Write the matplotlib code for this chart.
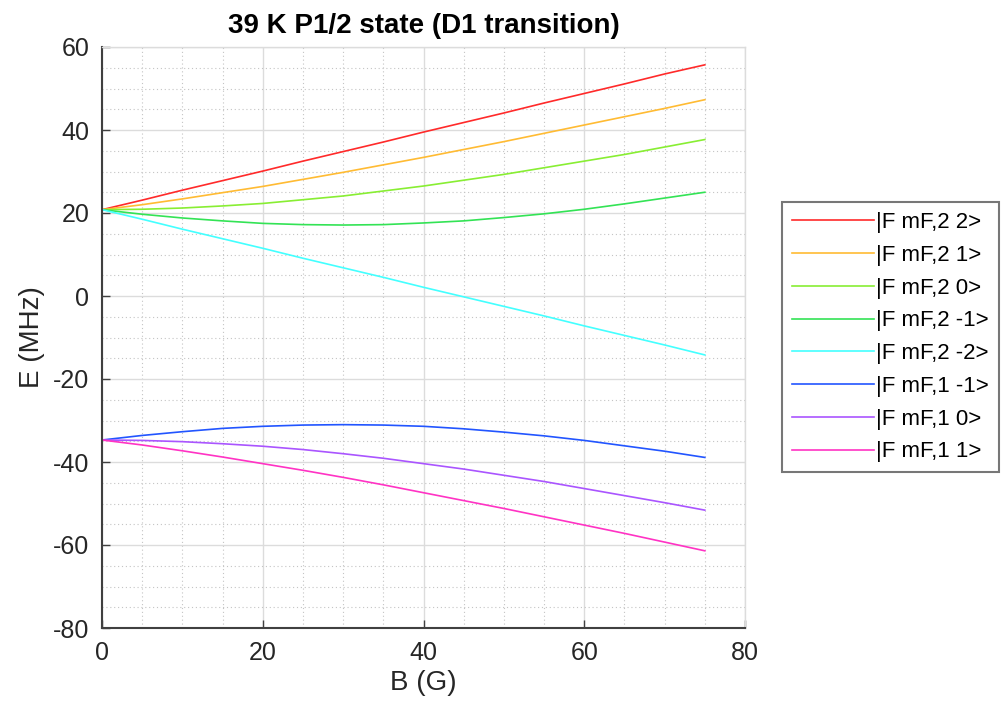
import matplotlib

matplotlib.use("Agg")
import matplotlib.pyplot as plt
from matplotlib.ticker import MultipleLocator

plt.rcParams["font.family"] = ["Liberation Sans", "DejaVu Sans"]
plt.rcParams["axes.unicode_minus"] = False

# field values (G) and Zeeman-shifted energies (MHz) of the 39K 4P1/2 sublevels
B = [0, 5, 10, 15, 20, 25, 30, 35, 40, 45, 50, 55, 60, 65, 70, 75]

E_2_2 = [20.8, 23.1, 25.5, 27.8, 30.1, 32.5, 34.8, 37.1, 39.5, 41.8, 44.1, 46.5,
         48.8, 51.1, 53.5, 55.7]
E_2_1 = [20.8, 22.0, 23.4, 24.9, 26.4, 28.1, 29.8, 31.6, 33.4, 35.3, 37.2, 39.2,
         41.2, 43.2, 45.2, 47.3]
E_2_0 = [20.8, 20.9, 21.2, 21.7, 22.3, 23.2, 24.1, 25.3, 26.5, 27.9, 29.3, 30.9,
         32.5, 34.1, 35.9, 37.7]
E_2_m1 = [20.8, 19.7, 18.8, 18.1, 17.5, 17.2, 17.1, 17.2, 17.6, 18.1, 18.9, 19.8,
          20.9, 22.2, 23.6, 25.0]
E_2_m2 = [20.8, 18.5, 16.1, 13.8, 11.5, 9.1, 6.8, 4.5, 2.1, -0.2, -2.5, -4.8,
          -7.2, -9.5, -11.8, -14.2]
E_1_m1 = [-34.7, -33.6, -32.7, -31.9, -31.4, -31.1, -31.0, -31.1, -31.4, -32.0,
          -32.8, -33.7, -34.8, -36.1, -37.4, -38.9]
E_1_0 = [-34.7, -34.8, -35.1, -35.6, -36.2, -37.0, -38.0, -39.1, -40.4, -41.7,
         -43.2, -44.7, -46.4, -48.1, -49.8, -51.6]
E_1_1 = [-34.7, -35.9, -37.3, -38.8, -40.4, -42.0, -43.7, -45.5, -47.4, -49.3,
         -51.2, -53.2, -55.2, -57.2, -59.3, -61.4]

series = [E_2_2, E_2_1, E_2_0, E_2_m1, E_2_m2, E_1_m1, E_1_0, E_1_1]
labels = ["|F mF,2 2>", "|F mF,2 1>", "|F mF,2 0>", "|F mF,2 -1>",
          "|F mF,2 -2>", "|F mF,1 -1>", "|F mF,1 0>", "|F mF,1 1>"]
colors = ["#ff2a2a", "#ffbb33", "#88ee33", "#33e355", "#44ffff",
          "#2255ff", "#aa55ff", "#ff33c4"]

fig = plt.figure(figsize=(10.02, 7.12), dpi=100)
ax = fig.add_axes([102 / 1002, 1 - 628 / 712, (745 - 102) / 1002, (628 - 47) / 712])

for y, lab, col in zip(series, labels, colors):
    ax.plot(B, y, color=col, lw=1.2, label=lab)

ax.set_xlim(0, 80)
ax.set_ylim(-80, 60)
ax.xaxis.set_major_locator(MultipleLocator(20))
ax.yaxis.set_major_locator(MultipleLocator(20))
ax.xaxis.set_minor_locator(MultipleLocator(5))
ax.yaxis.set_minor_locator(MultipleLocator(5))
ax.grid(which="major", color="#dcdcdc", lw=1.0)
ax.grid(which="minor", color="#c4c4c4", lw=0.8, ls=(0, (1, 2.5)))
ax.set_axisbelow(True)

ax.tick_params(which="major", direction="in", length=6, width=1.0, colors="#404040",
               labelsize=18, labelcolor="#262626", top=False, right=False, pad=9)
ax.tick_params(which="minor", length=0)
for side in ("left", "bottom"):
    ax.spines[side].set_color("#404040")
    ax.spines[side].set_linewidth(1.5)
for side in ("top", "right"):
    ax.spines[side].set_color("#dcdcdc")
    ax.spines[side].set_linewidth(1.0)

ax.set_xlabel("B (G)", fontsize=20, color="#262626", labelpad=4)
ax.set_ylabel("E (MHz)", fontsize=20, color="#262626", labelpad=6)
ax.set_title("39 K P1/2 state (D1 transition)", fontsize=20, fontweight="bold", pad=10)

leg = ax.legend(loc="upper left", bbox_to_anchor=(782 / 1002, 1 - 202 / 712),
                bbox_transform=fig.transFigure, fontsize=16, frameon=True,
                fancybox=False, edgecolor="#555555", handlelength=3.7,
                handletextpad=0.1, labelspacing=0.53, borderpad=0.45,
                borderaxespad=0)
leg.get_frame().set_linewidth(1.5)

fig.savefig("out.png", dpi=100)
